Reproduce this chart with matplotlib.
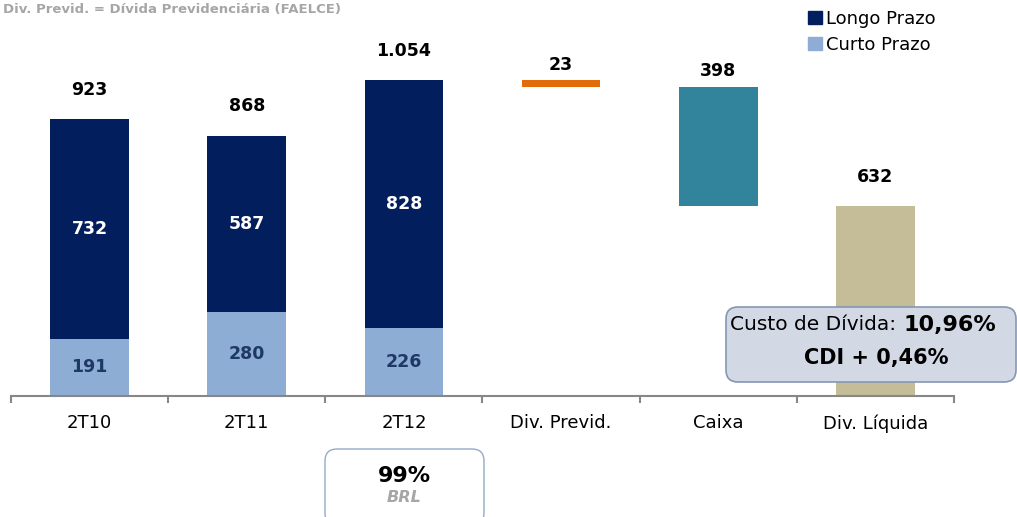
import matplotlib.pyplot as plt
from matplotlib.patches import FancyBboxPatch, Patch
from matplotlib.transforms import IdentityTransform

categories = ['2T10', '2T11', '2T12', 'Div. Previd.', 'Caixa', 'Div. Líquida']
curto = [191, 280, 226]
longo = [732, 587, 828]
totals = [923, 868, 1054]
previd = 23
caixa = 398
liquida = 632

c_longo = '#021E5C'
c_curto = '#8DADD4'
c_previd = '#E36C0A'
c_caixa = '#31849B'
c_liq = '#C4BD97'


def fmt(v):
    return f'{v:,}'.replace(',', '.')


plt.rcParams['font.family'] = 'DejaVu Sans'
fig = plt.figure(figsize=(10.17, 5.17), dpi=100)
ax = fig.add_axes([11 / 1017, 1 - 396 / 517, (954 - 11) / 1017, 396 / 517])

x = list(range(len(categories)))
w = 0.5

# stacked bars
ax.bar(x[:3], curto, width=w, color=c_curto)
ax.bar(x[:3], longo, width=w, bottom=curto, color=c_longo)

# waterfall part
prev_bottom = totals[2] - previd
ax.bar(x[3], previd, width=w, bottom=prev_bottom, color=c_previd)
caixa_bottom = prev_bottom - caixa
ax.bar(x[4], caixa, width=w, bottom=caixa_bottom, color=c_caixa)
ax.bar(x[5], liquida, width=w, color=c_liq)

lab = dict(ha='center', va='center', fontsize=12.5, fontweight='bold')
for i in range(3):
    ax.annotate(fmt(totals[i]), (x[i], totals[i]), xytext=(0, 21),
                textcoords='offset points', color='black', **lab)
    ax.text(x[i], curto[i] + longo[i] / 2, fmt(longo[i]), color='white', **lab)
    ax.text(x[i], curto[i] / 2, fmt(curto[i]), color='#1F3864', **lab)

ax.annotate(fmt(previd), (x[3], totals[2]), xytext=(0, 10.5),
            textcoords='offset points', color='black', **lab)
ax.annotate(fmt(caixa), (x[4], prev_bottom), xytext=(0, 11.5),
            textcoords='offset points', color='black', **lab)
ax.annotate(fmt(liquida), (x[5], liquida), xytext=(0, 21),
            textcoords='offset points', color='black', **lab)

ax.set_xlim(-0.5, 5.5)
ax.set_ylim(0, 1320)
for s in ['top', 'right', 'left']:
    ax.spines[s].set_visible(False)
ax.spines['bottom'].set_color('#878787')
ax.spines['bottom'].set_linewidth(1.5)
ax.set_yticks([])

ax.set_xticks([i - 0.5 for i in range(len(categories) + 1)])
ax.set_xticklabels([])
ax.tick_params(axis='x', which='major', length=5, width=1.5, color='#878787')
ax.set_xticks(x, minor=True)
ax.set_xticklabels(categories, minor=True, fontsize=13)
ax.tick_params(axis='x', which='minor', length=0, pad=13)

# legend
handles = [Patch(color=c_longo, label='Longo Prazo'),
           Patch(color=c_curto, label='Curto Prazo')]
fig.legend(handles=handles, loc='upper left', bbox_to_anchor=(808 / 1017, 1 - 10 / 517),
           frameon=False, fontsize=13, handlelength=0.75, handleheight=0.75,
           handletextpad=0.25, labelspacing=0.45, borderaxespad=0, borderpad=0)

# title note
fig.text(3 / 1017, 1 - 9 / 517, 'Div. Previd. = Dívida Previdenciária (FAELCE)',
         fontsize=9.5, fontweight='bold', color='#A6A6A6', ha='left', va='center')

# cost box
box = FancyBboxPatch((726, 517 - 382), 290, 75, boxstyle='round,pad=0,rounding_size=12',
                     transform=IdentityTransform(), facecolor='#D2D9E5', edgecolor='#8497B5',
                     linewidth=1.2, zorder=5)
fig.patches.append(box)
fig.text(903 / 1017, 1 - 325 / 517, 'Custo de Dívida: ', fontsize=14.5, ha='right',
         va='center', zorder=6)
fig.text(903 / 1017, 1 - 325 / 517, '10,96%', fontsize=16, fontweight='bold', ha='left',
         va='center', zorder=6)
fig.text(876 / 1017, 1 - 358 / 517, 'CDI + 0,46%', fontsize=15, fontweight='bold',
         ha='center', va='center', zorder=6)

# BRL box
box2 = FancyBboxPatch((325, -8), 159, 517 - 449 + 8, boxstyle='round,pad=0,rounding_size=12',
                      transform=IdentityTransform(), facecolor='white', edgecolor='#95A9C9',
                      linewidth=1.0, zorder=5)
fig.patches.append(box2)
fig.text(404 / 1017, 1 - 476 / 517, '99%', fontsize=16, fontweight='bold', ha='center',
         va='center', zorder=6)
fig.text(404 / 1017, 1 - 498 / 517, 'BRL', fontsize=11.5, fontweight='bold', style='italic',
         color='#A6A6A6', ha='center', va='center', zorder=6)

fig.savefig('out.png', dpi=100)
